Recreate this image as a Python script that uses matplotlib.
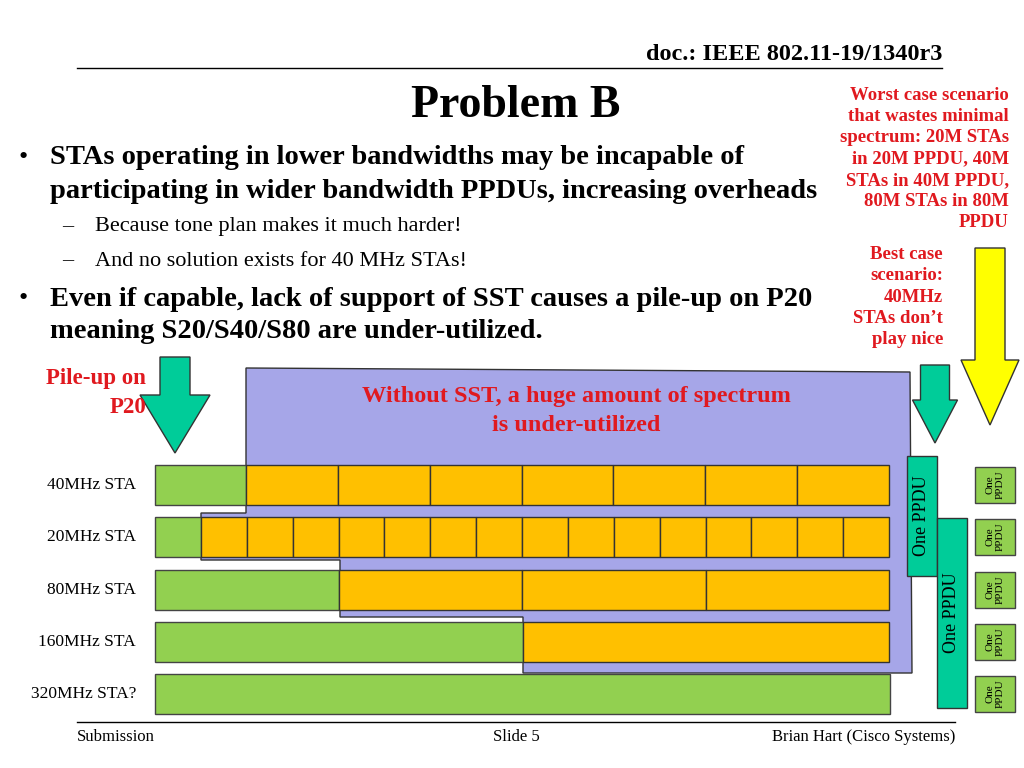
import matplotlib.pyplot as plt
from matplotlib.patches import Rectangle, Polygon, FancyArrow

# rows of the diagram
row_labels = ['40MHz STA', '20MHz STA', '80MHz STA', '160MHz STA', '320MHz STA?']
row_top = [465, 517, 570, 622, 674]
row_h = 40
green_end = [246, 201, 339, 523, 890]
orange_segments = [7, 15, 3, 1, 0]
x0, x1 = 155, 889

GREEN = '#92d050'
ORANGE = '#ffc000'
TEAL = '#00cc99'
PURPLE = '#a6a6e8'
RED = '#e0191f'
serif = 'Liberation Serif'

fig = plt.figure(figsize=(10.24, 7.68), dpi=100)
ax = fig.add_axes([0, 0, 1, 1])
ax.set_xlim(0, 1024)
ax.set_ylim(768, 0)
ax.axis('off')

def txt(x, y, s, **kw):
    kw.setdefault('family', serif)
    ax.text(x, y, s, **kw)

# header / footer
txt(942, 54, 'doc.: IEEE 802.11-19/1340r3', ha='right', va='center', fontsize=17.5, weight='bold')
ax.plot([77, 942], [68, 68], color='k', lw=1)
ax.plot([77, 955], [722, 722], color='k', lw=1)
txt(77, 737, 'Submission', va='center', fontsize=12)
txt(516, 737, 'Slide 5', ha='center', va='center', fontsize=12)
txt(955, 737, 'Brian Hart (Cisco Systems)', ha='right', va='center', fontsize=12)

txt(516, 106, 'Problem B', ha='center', va='center', fontsize=33, weight='bold')
txt(18, 158, '•', va='center', fontsize=19)
txt(50, 158, 'STAs operating in lower bandwidths may be incapable of', va='center', fontsize=20.5, weight='bold')
txt(50, 192, 'participating in wider bandwidth PPDUs, increasing overheads', va='center', fontsize=20.5, weight='bold')
txt(62, 227, '–', va='center', fontsize=16)
txt(95, 227, 'Because tone plan makes it much harder!', va='center', fontsize=16)
txt(62, 261, '–', va='center', fontsize=16)
txt(95, 261, 'And no solution exists for 40 MHz STAs!', va='center', fontsize=16)
txt(18, 299, '•', va='center', fontsize=19)
txt(50, 299, 'Even if capable, lack of support of SST causes a pile-up on P20', va='center', fontsize=20.5, weight='bold')
txt(50, 331, 'meaning S20/S40/S80 are under-utilized.', va='center', fontsize=20.5, weight='bold')

txt(1009, 159, 'Worst case scenario\nthat wastes minimal\nspectrum: 20M STAs\nin 20M PPDU, 40M\nSTAs in 40M PPDU,\n80M STAs in 80M\nPPDU',
    ha='right', va='center', fontsize=13.5, weight='bold', color=RED, linespacing=1.33, multialignment='right')
txt(943, 297, 'Best case\nscenario:\n40MHz\nSTAs don\u2019t\nplay nice', ha='right', va='center', fontsize=13.5,
    weight='bold', color=RED, linespacing=1.33, multialignment='right')
txt(146, 393, 'Pile-up on\nP20', ha='right', va='center', fontsize=16.5, weight='bold', color=RED,
    multialignment='right', linespacing=1.45)

# purple under-utilized region
poly = [(246, 368), (910, 372), (912, 673), (523, 673), (523, 617), (340, 617),
        (340, 560), (201, 560), (201, 513), (246, 513)]
ax.add_patch(Polygon(poly, closed=True, fc=PURPLE, ec='#333333', lw=1))
txt(576, 411, 'Without SST, a huge amount of spectrum\nis under-utilized', ha='center', va='center',
    fontsize=17.5, weight='bold', color=RED, linespacing=1.45)

# rows
for lab, top, ge, n in zip(row_labels, row_top, green_end, orange_segments):
    txt(136, top + row_h / 2, lab, ha='right', va='center', fontsize=12.5)
    ax.add_patch(Rectangle((x0, top), ge - x0, row_h, fc=GREEN, ec='#444444', lw=1))
    if n:
        w = (x1 - ge) / n
        for i in range(n):
            ax.add_patch(Rectangle((ge + i * w, top), w, row_h, fc=ORANGE, ec='#333333', lw=1))
    ax.add_patch(Rectangle((975, top + 2), 40, row_h - 4, fc=GREEN, ec='#444444', lw=1))
    txt(995, top + row_h / 2, 'One\nPPDU', ha='center', va='center', fontsize=8, rotation=90)

# tall PPDU bars
ax.add_patch(Rectangle((907, 456), 30, 120, fc=TEAL, ec='#333333', lw=1))
txt(922, 516, 'One PPDU', ha='center', va='center', fontsize=13, rotation=90)
ax.add_patch(Rectangle((937, 518), 30, 190, fc=TEAL, ec='#333333', lw=1))
txt(952, 613, 'One PPDU', ha='center', va='center', fontsize=13, rotation=90)

# arrows
ax.add_patch(FancyArrow(175, 357, 0, 96, width=30, head_width=70, head_length=58,
                        length_includes_head=True, fc=TEAL, ec='#333333', lw=1))
ax.add_patch(FancyArrow(935, 365, 0, 78, width=29, head_width=45, head_length=43,
                        length_includes_head=True, fc=TEAL, ec='#333333', lw=1))
ax.add_patch(FancyArrow(990, 248, 0, 177, width=30, head_width=58, head_length=65,
                        length_includes_head=True, fc='#ffff00', ec='#333333', lw=1))

fig.savefig('out.png', dpi=100)
